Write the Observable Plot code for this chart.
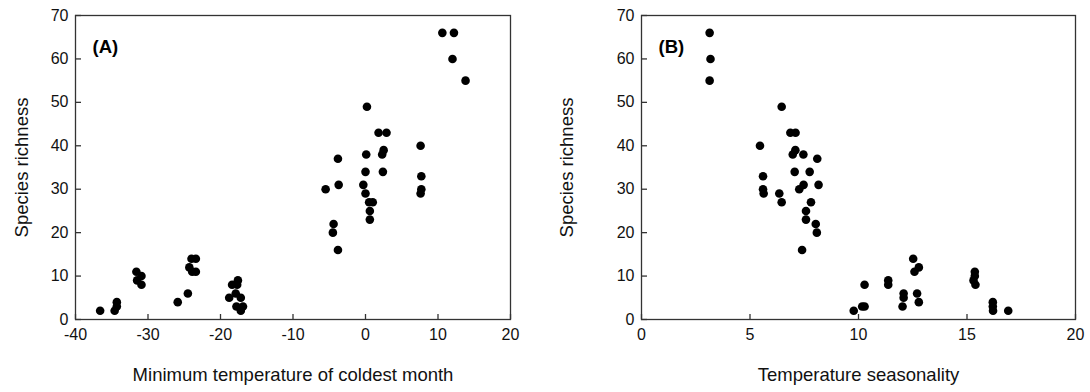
<!DOCTYPE html>
<html>
<head>
<meta charset="utf-8">
<script src="https://cdn.jsdelivr.net/npm/d3@7"></script>
<script src="https://cdn.jsdelivr.net/npm/@observablehq/plot@0.6"></script>
<style>
  html, body { margin: 0; padding: 0; background: #fff; }
  #fig { display: flex; flex-direction: row; width: 1090px; height: 392px; }
  svg { font-family: "Liberation Sans", Arial, sans-serif; }
</style>
</head>
<body>
<div id="fig"></div>
<script>
// Panel A: minimum temperature of coldest month vs species richness
const minTemp = [-36.6, -34.6, -34.3, -34.3, -31.6, -30.9, -31.5, -30.9, -25.9, -24.5, -24.3, -24.0, -23.4, -23.9, -23.4,
  -17.6, -18.4, -17.7, -17.9, -18.8, -17.2, -17.8, -16.9, -17.2,
  -5.5, -3.7, -3.8, -4.4, -4.5, -3.8, 0.2, 0.1, -0.3, 0.0, 0.0, 0.5, 1.0, 0.6, 0.6, 1.8, 2.9, 2.5, 2.3, 2.4,
  7.6, 7.7, 7.7, 7.6, 10.6, 12.2, 12.0, 13.8];
const richA = [2, 2, 3, 4, 11, 10, 9, 8, 4, 6, 12, 14, 14, 11, 11,
  9, 8, 8, 6, 5, 5, 3, 3, 2,
  30, 31, 37, 22, 20, 16, 49, 38, 31, 29, 34, 27, 27, 25, 23, 43, 43, 39, 38, 34,
  40, 33, 30, 29, 66, 66, 60, 55];

// Panel B: temperature seasonality vs species richness
const seasonality = [3.14, 3.18, 3.14, 6.46, 6.86, 7.1, 5.46, 7.09, 6.97, 7.46, 8.1, 5.6, 7.06, 7.75,
  5.6, 5.63, 6.35, 6.46, 7.27, 7.47, 8.16, 7.81, 7.58, 7.58, 8.03, 8.08, 7.4,
  9.78, 10.17, 10.28, 10.28, 11.37, 11.37, 12.52, 12.58, 12.78, 12.08, 12.08, 12.03, 12.7, 12.78,
  15.36, 15.36, 15.39, 15.3, 16.19, 16.19, 16.2, 16.9];
const richB = [66, 60, 55, 49, 43, 43, 40, 39, 38, 38, 37, 33, 34, 34,
  30, 29, 29, 27, 30, 31, 31, 27, 25, 23, 22, 20, 16,
  2, 3, 3, 8, 9, 8, 14, 11, 12, 6, 5, 3, 6, 4,
  11, 10, 8, 9, 4, 3, 2, 2];

const yTicks = [0, 10, 20, 30, 40, 50, 60, 70];
const xTicksA = [-40, -30, -20, -10, 0, 10, 20];
const xTicksB = [0, 5, 10, 15, 20];

const axisColor = "#333";
const fmt = d => String(d);

function panel({xs, ys, xDomain, xTicks, xLabel, tag, marginLeft, marginRight}) {
  const data = xs.map((x, i) => ({x, y: ys[i]}));
  return Plot.plot({
    width: 545,
    height: 392,
    marginLeft,
    marginRight,
    marginTop: 15,
    marginBottom: 73,
    style: {fontFamily: '"Liberation Sans", Arial, sans-serif', fontSize: "16px", color: "#111", background: "#fff"},
    x: {domain: xDomain, label: null},
    y: {domain: [0, 70], label: null},
    marks: [
      Plot.frame({stroke: axisColor, strokeWidth: 1.3}),
      Plot.axisX(xTicks, {tickSize: -5, tickFormat: () => "", stroke: axisColor, strokeWidth: 1.3}),
      Plot.axisX(xTicks, {tickSize: 0, tickPadding: 9, tickFormat: fmt, fontSize: 16, fill: "#111"}),
      Plot.axisY(yTicks, {tickSize: -6, tickFormat: () => "", stroke: axisColor, strokeWidth: 1.3}),
      Plot.axisY(yTicks, {tickSize: 0, tickPadding: 7, tickFormat: fmt, fontSize: 16, fill: "#111"}),
      Plot.dot(data, {x: "x", y: "y", r: 4.3, fill: "#000", stroke: null}),
      Plot.text([tag], {frameAnchor: "top-left", dx: 17, dy: 32, text: d => d, fontWeight: "bold", fontSize: 18.5, textAnchor: "start", lineAnchor: "middle", fill: "#000"}),
      Plot.text([xLabel], {frameAnchor: "bottom", dy: 56, text: d => d, fontSize: 18.5, lineAnchor: "middle", fill: "#111"}),
      Plot.text(["Species richness"], {frameAnchor: "left", dx: -(marginLeft - 22), text: d => d, fontSize: 18.5, rotate: -90, lineAnchor: "middle", textAnchor: "middle", fill: "#111"})
    ]
  });
}

const fig = document.getElementById("fig");
fig.append(panel({xs: minTemp, ys: richA, xDomain: [-40, 20], xTicks: xTicksA,
  xLabel: "Minimum temperature of coldest month", tag: "(A)", marginLeft: 75, marginRight: 35}));
fig.append(panel({xs: seasonality, ys: richB, xDomain: [0, 20], xTicks: xTicksB,
  xLabel: "Temperature seasonality", tag: "(B)", marginLeft: 96, marginRight: 15}));
</script>
</body>
</html>
